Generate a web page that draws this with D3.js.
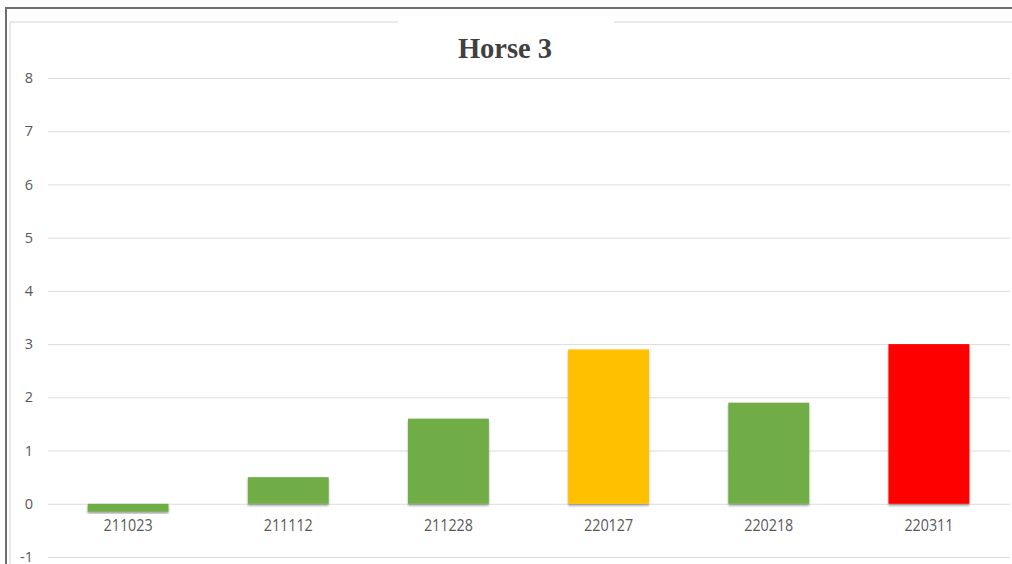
<!DOCTYPE html>
<html>
<head>
<meta charset="utf-8">
<script src="https://cdn.jsdelivr.net/npm/d3@7"></script>
<style>
  html, body { margin: 0; padding: 0; background: #fff; }
  svg { display: block; }
</style>
</head>
<body>
<svg id="chart" width="1012" height="564"></svg>
<script>
// Horse 3 — score per examination date
const categories = ["211023", "211112", "211228", "220127", "220218", "220311"];
const values = [-0.15, 0.5, 1.6, 2.9, 1.9, 3.0];
const barColors = ["#70AD47", "#70AD47", "#70AD47", "#FFC000", "#70AD47", "#FF0000"];
const yTicks = [-1, 0, 1, 2, 3, 4, 5, 6, 7, 8];
const title = "Horse 3";

const svg = d3.select("#chart");
const W = 1012, H = 564;
const labelFont = "'Open Sans', 'Noto Sans', sans-serif";

// soft drop shadow under the bars
const defs = svg.append("defs");
const f = defs.append("filter").attr("id", "shadow")
  .attr("x", "-10%").attr("y", "-10%").attr("width", "120%").attr("height", "130%");
f.append("feDropShadow").attr("dx", 0).attr("dy", 2).attr("stdDeviation", 1.2)
  .attr("flood-color", "#000").attr("flood-opacity", 0.35);

// outer frame
svg.append("path")
  .attr("d", `M6,${H} L6,8 L${W},8`)
  .attr("fill", "none").attr("stroke", "#6e6e6e").attr("stroke-width", 2);

// chart area border
svg.append("path")
  .attr("d", `M10,${H} L10,22 L${W},22`)
  .attr("fill", "none").attr("stroke", "#e3e3e3").attr("stroke-width", 1.5);

const x = d3.scaleBand().domain(categories).range([48, 1009]).padding(0);
const y = d3.scaleLinear().domain([-1, 8]).range([557, 78]);
const barW = x.bandwidth() * 0.505;

// gridlines and y labels via axis
const yAxis = d3.axisLeft(y).tickValues(yTicks).tickSize(-(1010 - 48)).tickPadding(15)
  .tickFormat(d => String(d));
const gy = svg.append("g").attr("transform", "translate(48,0)").call(yAxis);
gy.select(".domain").remove();
gy.selectAll(".tick line").attr("stroke", "#dcdcdc").attr("stroke-width", 1);
gy.selectAll(".tick text")
  .attr("fill", "#595959").attr("font-family", labelFont)
  .attr("font-size", 14.5);

// bars
svg.append("g").selectAll("rect").data(values).join("rect")
  .attr("x", (d, i) => x(categories[i]) + (x.bandwidth() - barW) / 2)
  .attr("y", d => y(Math.max(0, d)))
  .attr("width", barW)
  .attr("height", d => Math.abs(y(d) - y(0)))
  .attr("fill", (d, i) => barColors[i])
  .attr("filter", "url(#shadow)");

// category labels
const xAxis = d3.axisBottom(x).tickSize(0).tickPadding(0);
const gx = svg.append("g").attr("transform", "translate(0,520)").call(xAxis);
gx.select(".domain").remove();
gx.selectAll(".tick text")
  .attr("fill", "#595959").attr("font-family", labelFont)
  .attr("font-size", 16)
  .attr("textLength", 49).attr("lengthAdjust", "spacingAndGlyphs");

// title on a white plate that interrupts the border line
svg.append("rect").attr("x", 398).attr("y", 14).attr("width", 216).attr("height", 58).attr("fill", "#fff");
svg.append("text")
  .attr("x", 505).attr("y", 58)
  .attr("text-anchor", "middle")
  .attr("font-family", "'Liberation Serif', 'Times New Roman', serif")
  .attr("font-weight", "bold").attr("font-size", 28.5)
  .attr("fill", "#404040")
  .text(title);
</script>
</body>
</html>
